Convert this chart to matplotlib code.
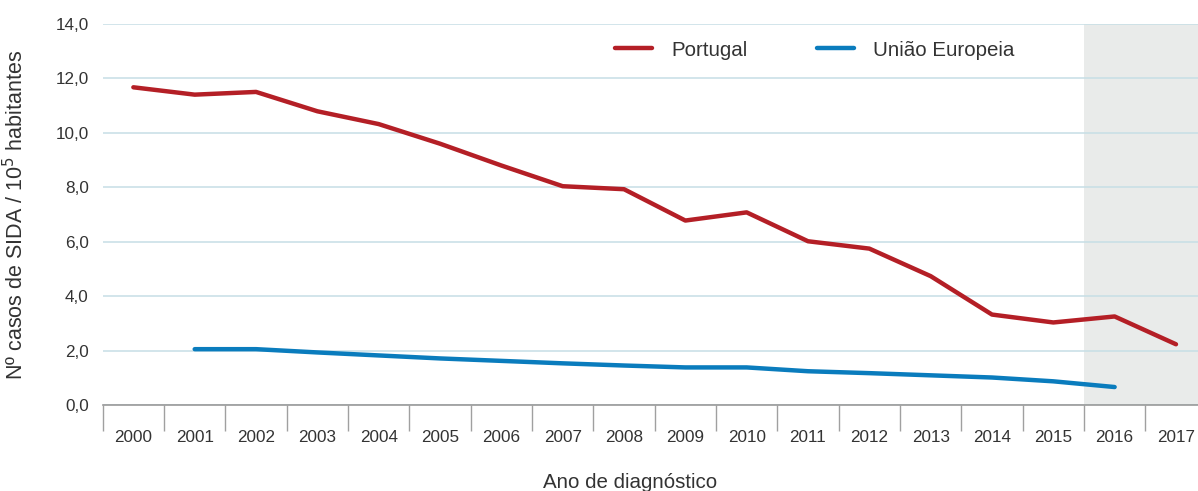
import numpy as np
import matplotlib
matplotlib.use("Agg")
import matplotlib.pyplot as plt

plt.rcParams['font.family'] = ['Liberation Sans', 'DejaVu Sans']

anos = ['2000', '2001', '2002', '2003', '2004', '2005', '2006', '2007', '2008',
        '2009', '2010', '2011', '2012', '2013', '2014', '2015', '2016', '2017']

portugal = [11.67, 11.40, 11.50, 10.79, 10.32, 9.60, 8.80, 8.04, 7.93,
            6.78, 7.08, 6.02, 5.75, 4.74, 3.33, 3.04, 3.26, 2.24]

# UE sem valor em 2000 e 2017
ue = [np.nan, 2.06, 2.06, 1.94, 1.83, 1.72, 1.63, 1.54, 1.46,
      1.39, 1.39, 1.25, 1.18, 1.10, 1.02, 0.88, 0.67, np.nan]

yticks = [0, 2, 4, 6, 8, 10, 12, 14]

cor_texto = '#333333'
cor_pt = '#b41f26'
cor_ue = '#0a7cbd'

fig = plt.figure(figsize=(11.98, 4.91), dpi=100)
ax = fig.add_axes([102.7 / 1198, 85.7 / 491, (1198 - 102.7) / 1198, 381.5 / 491])

x = np.arange(len(anos))

# zona sombreada (dados provisórios)
ax.axvspan(15.5, 18, color='#e9ebea', zorder=0, lw=0)

ax.plot(x, portugal, color=cor_pt, lw=3.2, solid_capstyle='round', zorder=3, label='Portugal')
ax.plot(x, ue, color=cor_ue, lw=3.2, solid_capstyle='round', zorder=3, label='União Europeia')

# grelha horizontal
ax.set_yticks(yticks)
ax.set_yticklabels([f'{v:.1f}'.replace('.', ',') for v in yticks])
ax.yaxis.grid(True, color='#c6dee6', lw=1.1, zorder=1)
ax.set_axisbelow(True)
ax.tick_params(axis='y', length=0, pad=10, labelsize=12.3, labelcolor=cor_texto)

# ticks nas fronteiras das categorias, rótulos ao centro
ax.set_xticks(np.arange(-0.5, len(anos), 1.0))
ax.set_xticklabels([])
ax.set_xticks(x, minor=True)
ax.set_xticklabels(anos, minor=True)
ax.tick_params(axis='x', which='major', length=19, width=1, color='#a0a0a0')
ax.tick_params(axis='x', which='minor', length=0, pad=18, labelsize=12.3, labelcolor=cor_texto)

ax.set_xlim(-0.5, -0.5 + (1198 - 102.7) / 61.33)
ax.set_ylim(0, 14)

for s in ['top', 'right', 'left']:
    ax.spines[s].set_visible(False)
ax.spines['bottom'].set_color('#999999')
ax.spines['bottom'].set_linewidth(1.2)

ax.set_ylabel('Nº casos de SIDA / 10$^5$ habitantes', fontsize=15.5, color=cor_texto)
ax.yaxis.set_label_coords(-0.068, 0.5)

fig.text(630 / 1198, 1 - 473 / 491, 'Ano de diagnóstico', ha='center', va='top',
         fontsize=14.8, color=cor_texto)

leg = ax.legend(loc='center', bbox_to_anchor=(0.65, 0.931), ncol=2, frameon=False,
                fontsize=14.8, handlelength=1.8, handletextpad=0.9, columnspacing=3.4)
for t in leg.get_texts():
    t.set_color(cor_texto)

fig.savefig('out.png', dpi=100)
